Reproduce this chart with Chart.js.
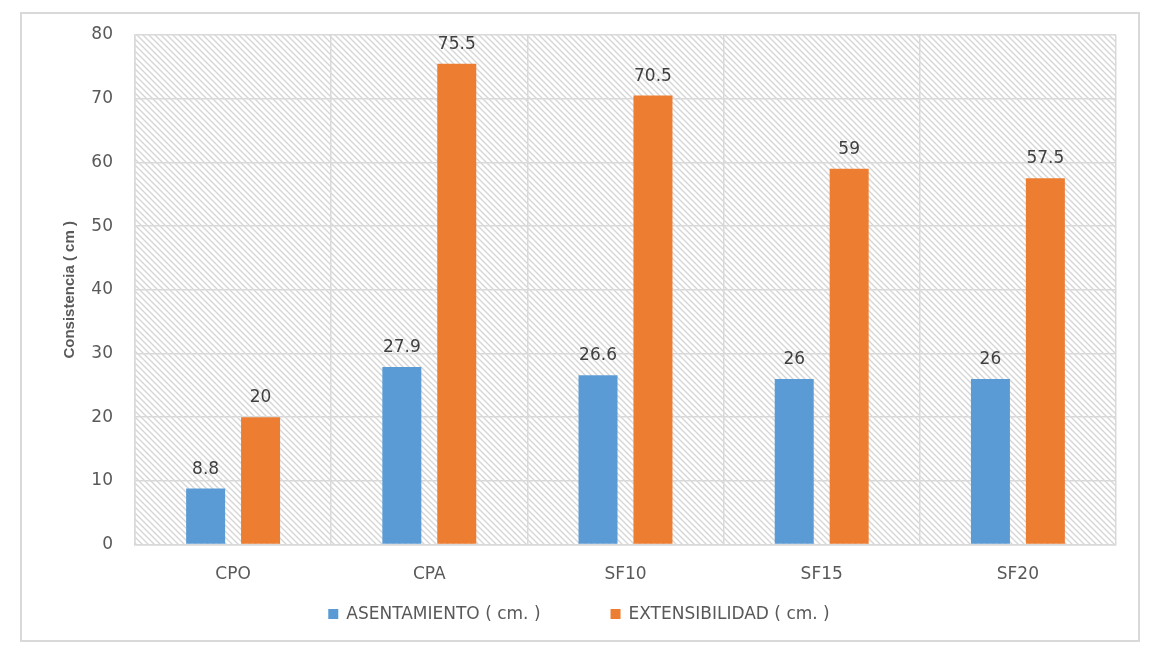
<!DOCTYPE html>
<html>
<head>
<meta charset="utf-8">
<script src="https://cdn.jsdelivr.net/npm/chart.js@4"></script>
<style>
  html, body { margin: 0; padding: 0; background: #fff; }
  #wrap { position: relative; width: 1158px; height: 651px; }
  #frame { position: absolute; left: 20px; top: 12px; width: 1120px; height: 630px; border: 2px solid #d9d9d9; box-sizing: border-box; }
  canvas { position: absolute; left: 0; top: 0; }
</style>
</head>
<body>
<div id="wrap">
  <div id="frame"></div>
  <canvas id="chart" width="1158" height="651"></canvas>
</div>
<script>
const categories = ['CPO', 'CPA', 'SF10', 'SF15', 'SF20']
const asentamiento = [8.8, 27.9, 26.6, 26, 26]
const extensibilidad = [20, 75.5, 70.5, 59, 57.5]
const seriesNames = ['ASENTAMIENTO ( cm. )', 'EXTENSIBILIDAD ( cm. )']
const yTitle = 'Consistencia ( cm )'

const FONT = "'DejaVu Sans', sans-serif"
const GRID = '#d9d9d9'
const TEXT = '#595959'

// Hatched plot background, like the Excel pattern fill
function makeHatch() {
  const n = 6
  const c = document.createElement('canvas')
  c.width = n
  c.height = n
  const g = c.getContext('2d')
  g.strokeStyle = '#d6d6d6'
  g.lineWidth = 1.4
  g.beginPath()
  for (let k = -n; k <= n; k += n) {
    g.moveTo(k - 1, -1)
    g.lineTo(k + n + 1, n + 1)
  }
  g.stroke()
  return c
}

const hatchPlugin = {
  id: 'hatch',
  beforeDraw(chart) {
    const { ctx, chartArea: a } = chart
    ctx.save()
    ctx.fillStyle = ctx.createPattern(makeHatch(), 'repeat')
    ctx.fillRect(a.left, a.top, a.right - a.left, a.bottom - a.top)
    ctx.restore()
  }
}

// Value labels above each bar
const labelPlugin = {
  id: 'valueLabels',
  afterDatasetsDraw(chart) {
    const ctx = chart.ctx
    ctx.save()
    ctx.font = '17px ' + FONT
    ctx.fillStyle = '#404040'
    ctx.textAlign = 'center'
    ctx.textBaseline = 'alphabetic'
    chart.data.datasets.forEach((ds, i) => {
      chart.getDatasetMeta(i).data.forEach((bar, j) => {
        ctx.fillText(String(ds.data[j]), bar.x, bar.y - 15)
      })
    })
    ctx.restore()
  }
}

// Bottom legend, drawn by hand so the gap between items matches Excel
const legendPlugin = {
  id: 'xlLegend',
  afterDraw(chart) {
    const ctx = chart.ctx
    const y = 614
    const box = 10, gapText = 8, gapItem = 70
    ctx.save()
    ctx.font = '17px ' + FONT
    const widths = chart.data.datasets.map(ds => box + gapText + ctx.measureText(ds.label).width)
    const total = widths.reduce((s, w) => s + w, 0) + gapItem * (widths.length - 1)
    let x = chart.width / 2 - total / 2
    ctx.textBaseline = 'middle'
    chart.data.datasets.forEach((ds, i) => {
      ctx.fillStyle = ds.backgroundColor
      ctx.fillRect(x, y - box / 2, box, box)
      ctx.fillStyle = TEXT
      ctx.fillText(ds.label, x + box + gapText, y + 1)
      x += widths[i] + gapItem
    })
    ctx.restore()
  }
}

new Chart(document.getElementById('chart'), {
  type: 'bar',
  data: {
    labels: categories,
    datasets: [
      { label: seriesNames[0], data: asentamiento, backgroundColor: '#5b9bd5' },
      { label: seriesNames[1], data: extensibilidad, backgroundColor: '#ed7d31' }
    ]
  },
  options: {
    responsive: false,
    animation: false,
    categoryPercentage: 0.56,
    barPercentage: 0.71,
    layout: { padding: { left: 49, right: 42, top: 35, bottom: 46 } },
    plugins: {
      legend: { display: false },
      tooltip: { enabled: false }
    },
    scales: {
      x: {
        grid: { color: GRID, lineWidth: 1.5, drawTicks: false },
        border: { color: GRID, width: 1.5 },
        ticks: { color: TEXT, padding: 20, font: { family: FONT, size: 17 } }
      },
      y: {
        min: 0, max: 80,
        afterFit(scale) { scale.width = 86 },
        ticks: { stepSize: 10, color: TEXT, padding: 22, font: { family: FONT, size: 17 } },
        grid: { color: GRID, lineWidth: 1.5, drawTicks: false },
        border: { color: GRID, width: 1.5 },
        title: {
          display: true, text: yTitle, color: TEXT,
          font: { family: "'Liberation Sans', sans-serif", size: 15, weight: 'bold' }, padding: 12
        }
      }
    }
  },
  plugins: [hatchPlugin, labelPlugin, legendPlugin]
})
</script>
</body>
</html>
